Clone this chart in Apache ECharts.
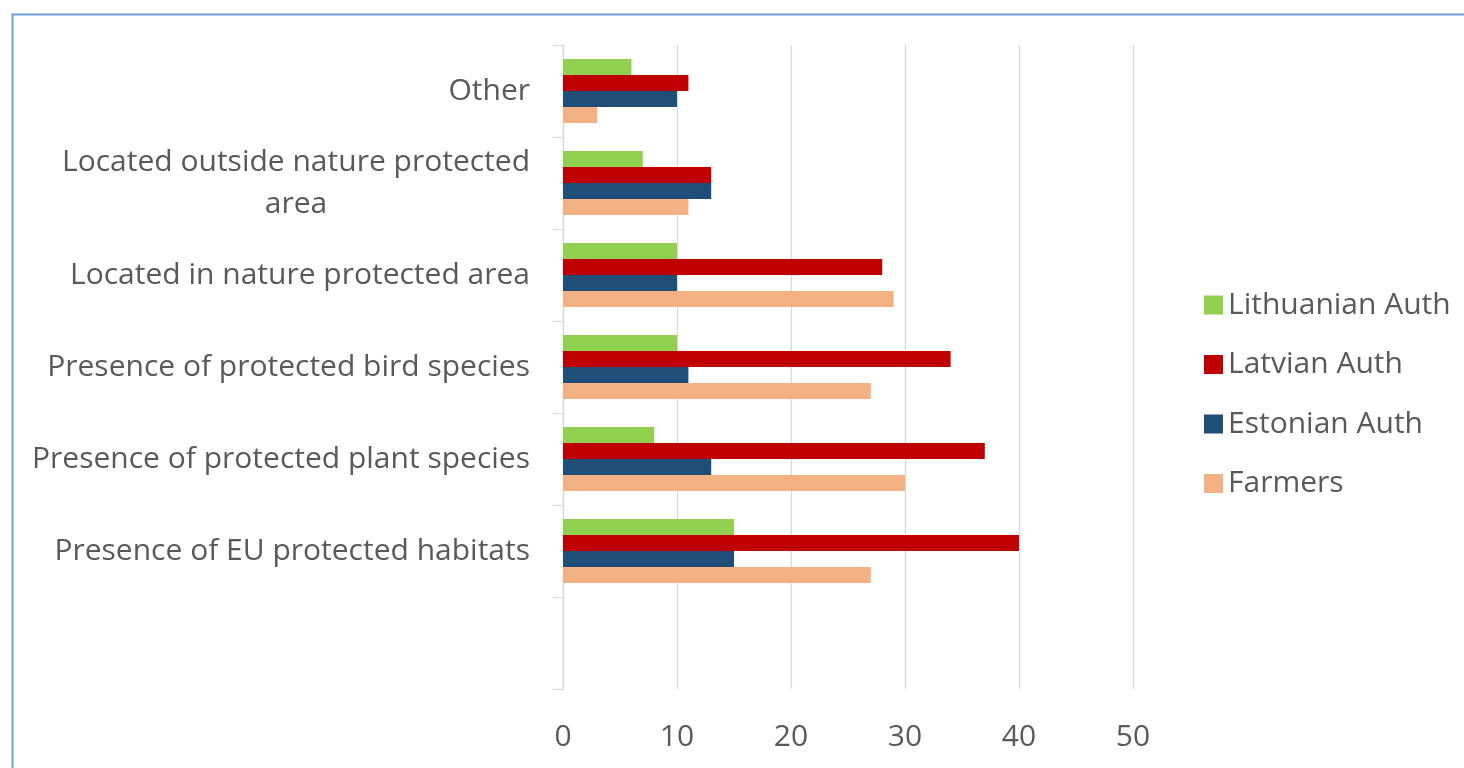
<!DOCTYPE html>
<html>
<head>
<meta charset="utf-8">
<title>Chart</title>
<script src="https://cdn.jsdelivr.net/npm/echarts@6/dist/echarts.min.js"></script>
<style>
  html, body { margin: 0; padding: 0; background: #fff; }
  #chart { width: 1464px; height: 768px; }
</style>
</head>
<body>
<div id="chart"></div>
<script>
// categories, bottom to top (first one is the empty band under the bars)
var categories = [
  '',
  'Presence of EU protected habitats',
  'Presence of protected plant species',
  'Presence of protected bird species',
  'Located in nature protected area',
  'Located outside nature protected\narea',
  'Other'
];

var farmers     = [null, 27, 30, 27, 29, 11, 3];
var estonian    = [null, 15, 13, 11, 10, 13, 10];
var latvian     = [null, 40, 37, 34, 28, 13, 11];
var lithuanian  = [null, 15, 8, 10, 10, 7, 6];

var xTicks = [0, 50, 10]; // min, max, interval

var textColor = '#595959';
var gridColor = '#d9d9d9';
var fontFamily = '"Open Sans", sans-serif';

var chart = echarts.init(document.getElementById('chart'));

function bar(name, data, color) {
  return {
    name: name,
    type: 'bar',
    data: data,
    barWidth: 16,
    barGap: '0%',
    itemStyle: { color: color }
  };
}

var option = {
  backgroundColor: '#fff',
  animation: false,
  graphic: [{
    type: 'rect',
    left: 10,
    top: 12,
    shape: { width: 1480, height: 800 },
    style: { fill: 'none', stroke: '#6a9fd8', lineWidth: 2 },
    silent: true
  }],
  legend: {
    orient: 'vertical',
    left: 1199,
    top: 285,
    itemWidth: 19,
    itemHeight: 19,
    itemGap: 29.5,
    icon: 'rect',
    data: ['Lithuanian Auth', 'Latvian Auth', 'Estonian Auth', 'Farmers'],
    textStyle: { color: textColor, fontSize: 30, fontFamily: fontFamily, lineHeight: 30 }
  },
  grid: { left: 563, top: 45, right: 331, bottom: 79, containLabel: false },
  xAxis: {
    type: 'value',
    min: xTicks[0],
    max: xTicks[1],
    interval: xTicks[2],
    axisLine: { show: false },
    axisTick: { show: false },
    splitLine: { lineStyle: { color: gridColor, width: 1.3 } },
    axisLabel: { color: textColor, fontSize: 30, fontFamily: fontFamily, margin: 33 }
  },
  yAxis: {
    type: 'category',
    data: categories,
    axisLine: { show: true, lineStyle: { color: gridColor, width: 1.3 } },
    axisTick: { show: true, length: 10, lineStyle: { color: gridColor, width: 1.3 } },
    axisLabel: {
      margin: 33,
      color: textColor,
      fontSize: 30,
      fontFamily: fontFamily,
      formatter: function (v) {
        return v.split('\n').map(function (s) { return '{c|' + s + '}'; }).join('\n');
      },
      rich: {
        c: { align: 'center', color: textColor, fontSize: 30, fontFamily: fontFamily, lineHeight: 42 }
      }
    }
  },
  // series 0 sits at the top of each band
  series: [
    bar('Lithuanian Auth', lithuanian, '#92d050'),
    bar('Latvian Auth', latvian, '#c00000'),
    bar('Estonian Auth', estonian, '#1f4e79'),
    bar('Farmers', farmers, '#f4b183')
  ]
};

chart.setOption(option);
</script>
</body>
</html>
